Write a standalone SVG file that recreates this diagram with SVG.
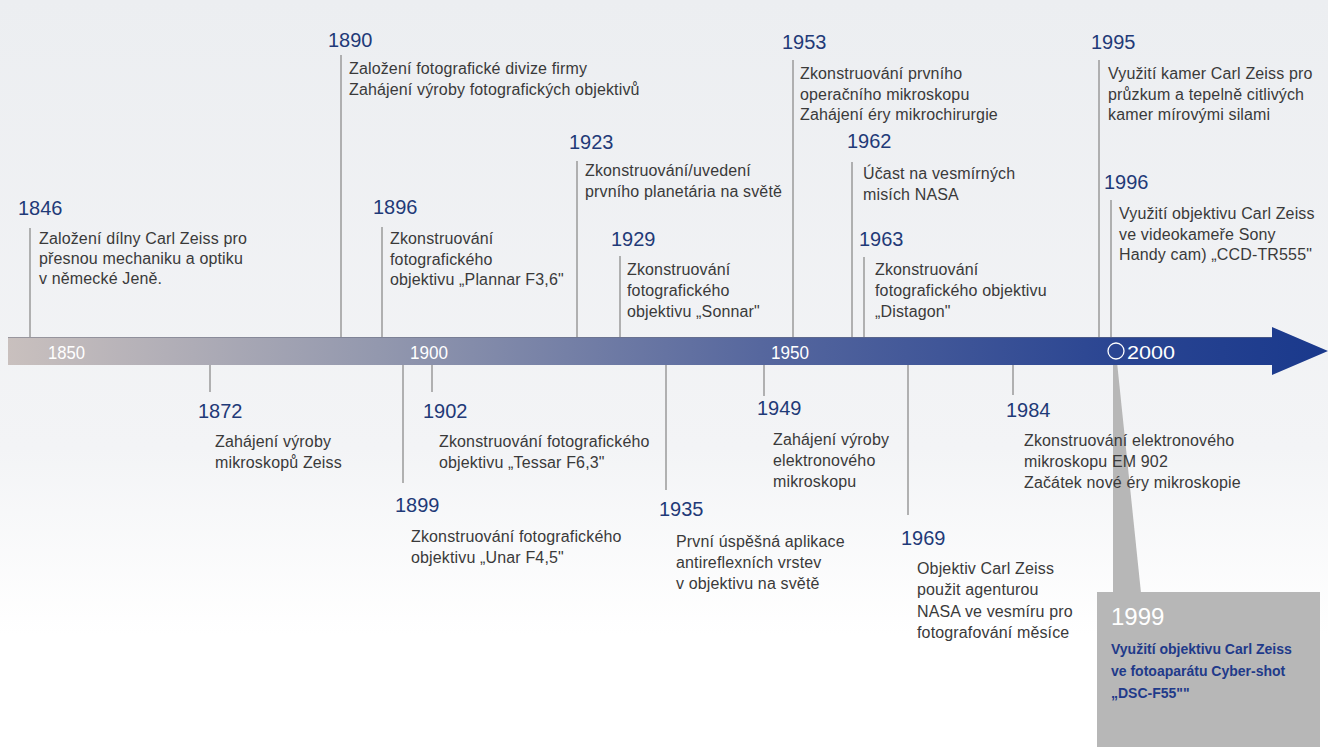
<svg xmlns="http://www.w3.org/2000/svg" width="1328" height="747" viewBox="0 0 1328 747">
<defs>
<linearGradient id="bg" x1="0" y1="0" x2="0" y2="1">
<stop offset="0" stop-color="#eceef1"/>
<stop offset="0.6" stop-color="#f3f4f6"/>
<stop offset="0.85" stop-color="#ffffff"/>
</linearGradient>
<linearGradient id="bar" x1="8" y1="0" x2="1328" y2="0" gradientUnits="userSpaceOnUse">
<stop offset="0" stop-color="#c9c0be"/>
<stop offset="0.28" stop-color="#9398ae"/>
<stop offset="0.57" stop-color="#56679e"/>
<stop offset="0.84" stop-color="#2a4592"/>
<stop offset="1" stop-color="#1a398c"/>
</linearGradient>
<style>
.yr{font-family:"Liberation Sans",Arial,sans-serif;font-size:20px;fill:#1f3a78}
.tx{font-family:"Liberation Sans",Arial,sans-serif;font-size:16px;letter-spacing:0.15px;fill:#3a3a3a}
.ax{font-family:"Liberation Sans",Arial,sans-serif;font-size:19px;fill:#ffffff}
.ln{stroke:#9a9a9a;stroke-width:1.5;fill:none}
.cy{font-family:"Liberation Sans",Arial,sans-serif;font-size:24px;fill:#ffffff}
.ct{font-family:"Liberation Sans",Arial,sans-serif;font-size:14px;fill:#1f3a8a;font-weight:bold}
</style>
</defs>
<rect x="0" y="0" width="1328" height="747" fill="url(#bg)"/>

<g id="connectors">
<line class="ln" x1="30" y1="228" x2="30" y2="338"/>
<line class="ln" x1="341" y1="55" x2="341" y2="338"/>
<line class="ln" x1="382" y1="227" x2="382" y2="338"/>
<line class="ln" x1="577" y1="161" x2="577" y2="338"/>
<line class="ln" x1="620" y1="256" x2="620" y2="338"/>
<line class="ln" x1="793" y1="60" x2="793" y2="338"/>
<line class="ln" x1="852" y1="162" x2="852" y2="338"/>
<line class="ln" x1="864" y1="257" x2="864" y2="338"/>
<line class="ln" x1="1099" y1="60" x2="1099" y2="338"/>
<line class="ln" x1="1111" y1="200" x2="1111" y2="338"/>
<line class="ln" x1="210" y1="365" x2="210" y2="392"/>
<line class="ln" x1="403" y1="365" x2="403" y2="483"/>
<line class="ln" x1="432" y1="365" x2="432" y2="392"/>
<line class="ln" x1="666" y1="365" x2="666" y2="490"/>
<line class="ln" x1="764" y1="365" x2="764" y2="396"/>
<line class="ln" x1="908" y1="365" x2="908" y2="515"/>
<line class="ln" x1="1013" y1="365" x2="1013" y2="395"/>
</g>

<g id="e1999">
<polygon points="1113,362 1117,362 1141,593 1113,593" fill="#b7b7b7"/>
<rect x="1097" y="592" width="223" height="155" fill="#b7b7b7"/>
<text class="cy" x="1111" y="625">1999</text>
<text class="ct" x="1111" y="654"><tspan x="1111">Využití objektivu Carl Zeiss</tspan><tspan x="1111" dy="22">ve fotoaparátu Cyber-shot</tspan><tspan x="1111" dy="22">„DSC-F55""</tspan></text>
</g>

<g id="axis">
<path d="M8 337 H1272 V327 L1328 351 L1272 375 V365 H8 Z" fill="url(#bar)"/>
<line x1="8" y1="337.5" x2="1272" y2="337.5" stroke="#6b6f80" stroke-width="1" opacity="0.5"/>
<text class="ax" x="48" y="359" textLength="37" lengthAdjust="spacingAndGlyphs">1850</text>
<text class="ax" x="410" y="359" textLength="38" lengthAdjust="spacingAndGlyphs">1900</text>
<text class="ax" x="771" y="359" textLength="38" lengthAdjust="spacingAndGlyphs">1950</text>
<circle cx="1116" cy="351" r="8" fill="none" stroke="#ffffff" stroke-width="1.3"/>
<text class="ax" x="1127" y="359" textLength="48" lengthAdjust="spacingAndGlyphs">2000</text>
</g>

<g id="e1846">
<text class="yr" x="18" y="215">1846</text>
<text class="tx" x="39" y="244"><tspan x="39">Založení dílny Carl Zeiss pro</tspan><tspan x="39" dy="20">přesnou mechaniku a optiku</tspan><tspan x="39" dy="20">v německé Jeně.</tspan></text>
</g>
<g id="e1890">
<text class="yr" x="328" y="47">1890</text>
<text class="tx" x="349" y="74"><tspan x="349">Založení fotografické divize firmy</tspan><tspan x="349" dy="21">Zahájení výroby fotografických objektivů</tspan></text>
</g>
<g id="e1896">
<text class="yr" x="373" y="214">1896</text>
<text class="tx" x="390" y="244"><tspan x="390">Zkonstruování</tspan><tspan x="390" dy="20.5">fotografického</tspan><tspan x="390" dy="20.5">objektivu „Plannar F3,6"</tspan></text>
</g>
<g id="e1923">
<text class="yr" x="569" y="149">1923</text>
<text class="tx" x="585" y="176"><tspan x="585">Zkonstruování/uvedení</tspan><tspan x="585" dy="21">prvního planetária na světě</tspan></text>
</g>
<g id="e1929">
<text class="yr" x="611" y="246">1929</text>
<text class="tx" x="627" y="275"><tspan x="627">Zkonstruování</tspan><tspan x="627" dy="21">fotografického</tspan><tspan x="627" dy="21">objektivu „Sonnar"</tspan></text>
</g>
<g id="e1953">
<text class="yr" x="782" y="49">1953</text>
<text class="tx" x="800" y="79"><tspan x="800">Zkonstruování prvního</tspan><tspan x="800" dy="20.5">operačního mikroskopu</tspan><tspan x="800" dy="20.5">Zahájení éry mikrochirurgie</tspan></text>
</g>
<g id="e1962">
<text class="yr" x="847" y="148">1962</text>
<text class="tx" x="863" y="179"><tspan x="863">Účast na vesmírných</tspan><tspan x="863" dy="21">misích NASA</tspan></text>
</g>
<g id="e1963">
<text class="yr" x="859" y="246">1963</text>
<text class="tx" x="875" y="275"><tspan x="875">Zkonstruování</tspan><tspan x="875" dy="21">fotografického objektivu</tspan><tspan x="875" dy="21">„Distagon"</tspan></text>
</g>
<g id="e1995">
<text class="yr" x="1091" y="49">1995</text>
<text class="tx" x="1108" y="79"><tspan x="1108">Využití kamer Carl Zeiss pro</tspan><tspan x="1108" dy="20.5">průzkum a tepelně citlivých</tspan><tspan x="1108" dy="20.5">kamer mírovými silami</tspan></text>
</g>
<g id="e1996">
<text class="yr" x="1104" y="189">1996</text>
<text class="tx" x="1119" y="219"><tspan x="1119">Využití objektivu Carl Zeiss</tspan><tspan x="1119" dy="20.5">ve videokameře Sony</tspan><tspan x="1119" dy="20.5">Handy cam) „CCD-TR555"</tspan></text>
</g>

<g id="e1872">
<text class="yr" x="198" y="418">1872</text>
<text class="tx" x="215" y="447"><tspan x="215">Zahájení výroby</tspan><tspan x="215" dy="21">mikroskopů Zeiss</tspan></text>
</g>
<g id="e1899">
<text class="yr" x="395" y="512">1899</text>
<text class="tx" x="411" y="542"><tspan x="411">Zkonstruování fotografického</tspan><tspan x="411" dy="21">objektivu „Unar F4,5"</tspan></text>
</g>
<g id="e1902">
<text class="yr" x="423" y="418">1902</text>
<text class="tx" x="439" y="447"><tspan x="439">Zkonstruování fotografického</tspan><tspan x="439" dy="21">objektivu „Tessar F6,3"</tspan></text>
</g>
<g id="e1935">
<text class="yr" x="659" y="516">1935</text>
<text class="tx" x="676" y="547"><tspan x="676">První úspěšná aplikace</tspan><tspan x="676" dy="21">antireflexních vrstev</tspan><tspan x="676" dy="21">v objektivu na světě</tspan></text>
</g>
<g id="e1949">
<text class="yr" x="757" y="415">1949</text>
<text class="tx" x="773" y="445"><tspan x="773">Zahájení výroby</tspan><tspan x="773" dy="21">elektronového</tspan><tspan x="773" dy="21">mikroskopu</tspan></text>
</g>
<g id="e1969">
<text class="yr" x="901" y="545">1969</text>
<text class="tx" x="917" y="574"><tspan x="917">Objektiv Carl Zeiss</tspan><tspan x="917" dy="21.3">použit agenturou</tspan><tspan x="917" dy="21.3">NASA ve vesmíru pro</tspan><tspan x="917" dy="21.3">fotografování měsíce</tspan></text>
</g>
<g id="e1984">
<text class="yr" x="1006" y="417">1984</text>
<text class="tx" x="1024" y="446"><tspan x="1024">Zkonstruování elektronového</tspan><tspan x="1024" dy="21">mikroskopu EM 902</tspan><tspan x="1024" dy="21">Začátek nové éry mikroskopie</tspan></text>
</g>
</svg>
